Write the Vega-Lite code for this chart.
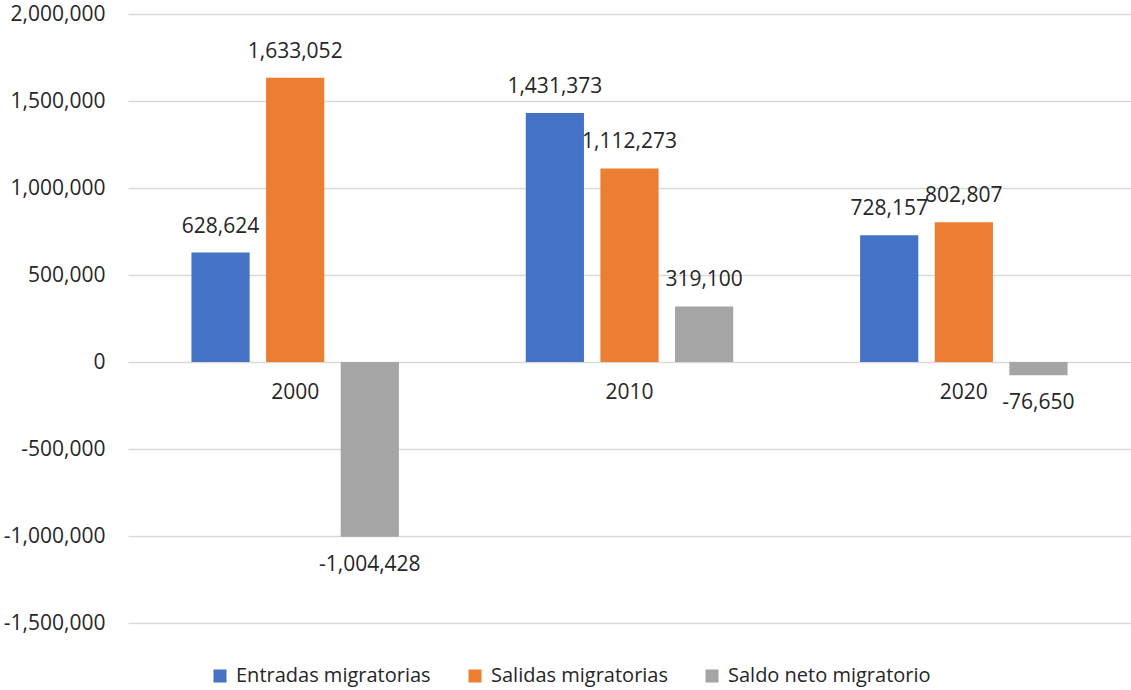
{
  "$schema": "https://vega.github.io/schema/vega-lite/v6.json",
  "autosize": {"type": "none"},
  "width": 1003,
  "height": 609,
  "padding": {"left": 128, "top": 14, "right": 0, "bottom": 67},
  "background": "white",
  "data": {
    "values": [
      {"year": "2000", "series": "Entradas migratorias", "value": 628624},
      {"year": "2000", "series": "Salidas migratorias", "value": 1633052},
      {"year": "2000", "series": "Saldo neto migratorio", "value": -1004428},
      {"year": "2010", "series": "Entradas migratorias", "value": 1431373},
      {"year": "2010", "series": "Salidas migratorias", "value": 1112273},
      {"year": "2010", "series": "Saldo neto migratorio", "value": 319100},
      {"year": "2020", "series": "Entradas migratorias", "value": 728157},
      {"year": "2020", "series": "Salidas migratorias", "value": 802807},
      {"year": "2020", "series": "Saldo neto migratorio", "value": -76650}
    ]
  },
  "encoding": {
    "x": {"field": "year", "type": "nominal", "axis": null, "scale": {"paddingInner": 0, "paddingOuter": 0}}
  },
  "layer": [
    {
      "mark": {"type": "bar"},
      "encoding": {
        "xOffset": {"field": "series", "type": "nominal", "sort": ["Entradas migratorias", "Salidas migratorias", "Saldo neto migratorio"], "scale": {"paddingInner": 0.22, "paddingOuter": 0.85}},
        "y": {
          "field": "value", "type": "quantitative",
          "scale": {"domain": [-1500000, 2000000], "nice": false, "zero": true},
          "axis": {
            "title": null, "values": [-1500000, -1000000, -500000, 0, 500000, 1000000, 1500000, 2000000],
            "format": ",.0f", "domain": false, "ticks": false, "labelPadding": 23,
            "gridColor": "#d9d9d9", "gridWidth": 1.3,
            "labelFont": "Open Sans", "labelFontSize": 21, "labelColor": "#262626"
          }
        },
        "color": {
          "field": "series", "type": "nominal",
          "sort": ["Entradas migratorias", "Salidas migratorias", "Saldo neto migratorio"],
          "scale": {"domain": ["Entradas migratorias", "Salidas migratorias", "Saldo neto migratorio"], "range": ["#4472C4", "#ED7D31", "#A5A5A5"]},
          "legend": {
            "title": null, "orient": "none", "direction": "horizontal",
            "legendX": 82, "legendY": 652, "padding": 0,
            "symbolType": "square", "symbolSize": 169, "symbolStrokeWidth": 0,
            "labelFont": "Open Sans", "labelFontSize": 20, "labelColor": "#262626",
            "labelOffset": 6, "columnPadding": 34, "labelLimit": 0
          }
        }
      }
    },
    {
      "transform": [{"filter": "datum.value >= 0"}],
      "mark": {"type": "text", "dy": -26, "font": "Open Sans", "fontSize": 21, "color": "#262626", "baseline": "middle"},
      "encoding": {
        "xOffset": {"field": "series", "type": "nominal", "sort": ["Entradas migratorias", "Salidas migratorias", "Saldo neto migratorio"], "scale": {"paddingInner": 0.22, "paddingOuter": 0.85}},
        "y": {"field": "value", "type": "quantitative"},
        "text": {"field": "value", "type": "quantitative", "format": ","}
      }
    },
    {
      "transform": [{"filter": "datum.value < 0"}],
      "mark": {"type": "text", "dy": 28, "font": "Open Sans", "fontSize": 21, "color": "#262626", "baseline": "middle"},
      "encoding": {
        "xOffset": {"field": "series", "type": "nominal", "sort": ["Entradas migratorias", "Salidas migratorias", "Saldo neto migratorio"], "scale": {"paddingInner": 0.22, "paddingOuter": 0.85}},
        "y": {"field": "value", "type": "quantitative"},
        "text": {"field": "value", "type": "quantitative", "format": ","}
      }
    },
    {
      "transform": [{"filter": "datum.series == 'Entradas migratorias'"}],
      "mark": {"type": "text", "dy": 31, "font": "Open Sans", "fontSize": 21, "color": "#262626", "baseline": "middle"},
      "encoding": {
        "y": {"datum": 0, "type": "quantitative"},
        "text": {"field": "year", "type": "nominal"}
      }
    }
  ],
  "config": {
    "view": {"stroke": null},
    "locale": {"number": {"decimal": ".", "thousands": ",", "grouping": [3], "currency": ["$", ""], "minus": "-"}}
  }
}
